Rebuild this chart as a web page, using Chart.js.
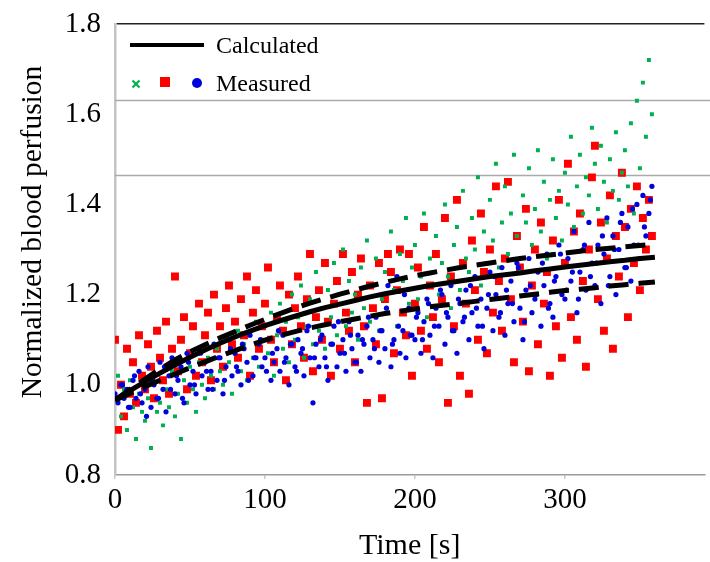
<!DOCTYPE html>
<html><head><meta charset="utf-8">
<script src="https://cdn.jsdelivr.net/npm/chart.js@4/dist/chart.umd.min.js"></script>
<style>html,body{margin:0;padding:0;background:#fff}</style>
</head><body>
<canvas id="c" width="710" height="562"></canvas>
<script>
// ---- data ----
const time = [
0,2,4,6,8,10,12,14,16,18,
20,22,24,26,28,30,32,34,36,38,
40,42,44,46,48,50,52,54,56,58,
60,62,64,66,68,70,72,74,76,78,
80,82,84,86,88,90,92,94,96,98,
100,102,104,106,108,110,112,114,116,118,
120,122,124,126,128,130,132,134,136,138,
140,142,144,146,148,150,152,154,156,158,
160,162,164,166,168,170,172,174,176,178,
180,182,184,186,188,190,192,194,196,198,
200,202,204,206,208,210,212,214,216,218,
220,222,224,226,228,230,232,234,236,238,
240,242,244,246,248,250,252,254,256,258,
260,262,264,266,268,270,272,274,276,278,
280,282,284,286,288,290,292,294,296,298,
300,302,304,306,308,310,312,314,316,318,
320,322,324,326,328,330,332,334,336,338,
340,342,344,346,348,350,352,354,356,358];

const measuredBlue = [
0.98,0.96,1.00,0.97,0.99,0.95,1.01,0.97,1.03,0.96,
0.99,1.04,0.95,1.00,0.97,1.05,0.99,0.94,1.02,1.06,
0.98,1.01,1.04,0.96,1.07,1.00,1.03,0.98,1.08,1.02,
1.05,0.99,1.03,1.09,1.01,1.06,0.98,1.04,1.10,1.02,
1.07,1.03,1.00,1.08,1.05,1.11,1.02,1.06,1.09,1.04,
1.06,1.10,1.01,1.05,1.08,1.03,1.11,1.06,1.00,1.09,
1.04,1.10,1.07,1.02,1.12,1.06,0.96,1.09,1.04,1.11,
1.06,1.01,1.09,1.13,1.04,1.07,1.10,1.03,1.14,1.08,
1.05,1.11,1.03,1.09,1.13,1.06,1.10,1.15,1.05,1.12,
1.08,1.22,1.04,1.10,1.24,1.07,1.12,1.06,1.17,1.11,
1.10,1.16,1.07,1.14,1.19,1.11,1.06,1.17,1.13,1.20,
1.09,1.15,1.22,1.12,1.07,1.18,1.14,1.21,1.10,1.16,
1.24,1.13,1.19,1.08,1.17,1.25,1.12,1.20,1.15,1.26,
1.11,1.18,1.23,1.14,1.27,1.17,1.10,1.21,1.28,1.16,
1.19,1.25,1.13,1.22,1.29,1.18,1.15,1.24,1.31,1.20,
1.19,1.28,1.23,1.34,1.16,1.25,1.30,1.21,1.36,1.27,
1.22,1.31,1.18,1.29,1.37,1.24,1.33,1.20,1.30,1.38,
1.26,1.35,1.23,1.31,1.40,1.28,1.42,1.33,1.38,1.44];

const timeBlue2 = [
1,5,9,13,17,21,25,29,33,37,
41,45,49,53,57,61,65,69,73,77,
81,85,89,93,97,101,105,109,113,117,
121,125,129,133,137,141,145,149,153,157,
161,165,169,173,177,181,185,189,193,197,
201,205,209,213,217,221,225,229,233,237,
241,245,249,253,257,261,265,269,273,277,
281,285,289,293,297,301,305,309,313,317,
321,325,329,333,337,341,345,349,353,357];
const measuredBlue2 = [
0.97,1.00,0.95,1.02,0.98,0.93,1.01,0.97,1.04,0.99,
1.02,0.97,1.05,1.00,1.07,1.03,0.99,1.06,1.01,1.08,
1.04,1.09,1.01,1.06,1.10,1.03,1.07,1.12,1.05,1.09,
1.03,1.08,1.13,1.06,1.10,1.04,1.09,1.14,1.07,1.11,
1.05,1.10,1.15,1.08,1.12,1.17,1.09,1.13,1.20,1.11,
1.15,1.10,1.18,1.13,1.21,1.16,1.12,1.19,1.15,1.22,
1.17,1.13,1.20,1.24,1.16,1.21,1.18,1.26,1.14,1.22,
1.20,1.27,1.17,1.23,1.29,1.21,1.25,1.19,1.31,1.24,
1.27,1.33,1.22,1.30,1.36,1.26,1.39,1.31,1.35,1.41];

const measuredRed = [
1.10,0.90,1.00,0.93,1.08,0.98,1.05,0.96,1.11,1.02,
0.99,1.09,1.04,0.97,1.12,1.06,1.01,1.14,0.98,1.08,
1.24,1.03,1.10,1.15,0.99,1.07,1.13,1.02,1.18,1.05,
1.11,1.16,1.01,1.20,1.08,1.13,1.04,1.17,1.22,1.09,
1.14,1.06,1.19,1.11,1.24,1.02,1.16,1.21,1.08,1.13,
1.18,1.26,1.10,1.05,1.15,1.22,1.12,1.01,1.20,1.09,
1.17,1.24,1.13,1.06,1.19,1.29,1.03,1.15,1.21,1.10,
1.27,1.14,1.02,1.18,1.23,1.08,1.29,1.16,1.12,1.25,
1.05,1.20,1.28,1.13,0.96,1.22,1.17,1.09,1.27,0.97,
1.19,1.29,1.25,1.07,1.21,1.30,1.16,1.11,1.29,1.02,
1.18,1.26,1.12,1.35,1.08,1.22,1.15,1.29,1.05,1.19,
1.37,0.96,1.24,1.13,1.41,1.02,1.27,1.18,0.98,1.32,
1.21,1.10,1.38,1.25,1.07,1.30,1.16,1.44,1.23,1.12,
1.28,1.45,1.19,1.05,1.33,1.26,1.14,1.39,1.03,1.22,
1.30,1.09,1.36,1.18,1.25,1.02,1.32,1.13,1.41,1.06,
1.27,1.49,1.15,1.34,1.10,1.38,1.23,1.04,1.30,1.46,
1.53,1.19,1.36,1.12,1.28,1.42,1.08,1.33,1.24,1.47,
1.35,1.15,1.39,1.27,1.44,1.21,1.37,1.30,1.41,1.33];

const measuredGreen = [
0.97,1.02,0.93,0.99,0.90,1.01,0.95,0.88,0.98,0.94,
0.92,0.97,0.86,1.00,0.94,0.96,0.91,0.99,0.95,1.03,
0.93,0.98,0.88,1.01,0.96,1.04,0.99,0.94,1.05,1.00,
0.97,1.06,1.02,0.99,1.08,1.03,1.00,1.10,1.05,0.98,
1.07,1.12,1.03,1.09,1.01,1.11,1.06,1.14,1.04,1.10,
1.13,1.07,1.16,1.02,1.11,1.18,1.08,1.14,1.05,1.20,
1.10,1.15,1.22,1.06,1.13,1.19,1.09,1.25,1.12,1.17,
1.08,1.21,1.15,1.27,1.11,1.18,1.30,1.13,1.23,1.16,
1.20,1.10,1.26,1.17,1.32,1.14,1.22,1.28,1.12,1.19,
1.25,1.16,1.34,1.21,1.13,1.29,1.23,1.37,1.18,1.26,
1.31,1.19,1.24,1.38,1.15,1.28,1.22,1.33,1.20,1.27,
1.40,1.24,1.17,1.31,1.35,1.21,1.43,1.28,1.25,1.37,
1.30,1.46,1.22,1.34,1.27,1.41,1.32,1.49,1.26,1.36,
1.44,1.29,1.38,1.51,1.33,1.25,1.42,1.36,1.48,1.31,
1.39,1.52,1.34,1.45,1.28,1.41,1.50,1.37,1.43,1.32,
1.47,1.40,1.55,1.35,1.44,1.51,1.38,1.46,1.42,1.57,
1.49,1.39,1.53,1.45,1.36,1.50,1.43,1.56,1.41,1.47,
1.52,1.44,1.58,1.38,1.63,1.48,1.67,1.55,1.72,1.60];

const calcTime = [0,10,20,30,40,50,60,70,80,90,100,110,120,130,140,150,160,170,180,190,
200,210,220,230,240,250,260,270,280,290,300,310,320,330,340,350,360];
const calculated = [0.966,0.987,1.007,1.026,1.044,1.061,1.077,1.092,1.106,1.119,
1.131,1.142,1.152,1.162,1.171,1.179,1.187,1.195,1.202,1.208,
1.214,1.220,1.225,1.230,1.235,1.240,1.244,1.248,1.253,1.257,
1.261,1.265,1.269,1.273,1.276,1.280,1.283];
const calculatedUpper = [0.966,0.990,1.013,1.035,1.055,1.073,1.089,1.104,1.118,1.132,
1.145,1.158,1.170,1.181,1.191,1.201,1.210,1.219,1.227,1.235,
1.242,1.248,1.254,1.260,1.265,1.270,1.275,1.280,1.284,1.288,
1.292,1.296,1.300,1.303,1.306,1.309,1.312];
const calculatedLower = [0.966,0.981,0.996,1.010,1.024,1.038,1.051,1.064,1.076,1.088,
1.099,1.109,1.118,1.126,1.133,1.140,1.146,1.152,1.158,1.163,
1.168,1.173,1.177,1.181,1.185,1.189,1.193,1.197,1.201,1.205,
1.209,1.212,1.215,1.219,1.222,1.225,1.228];

const yTicks = [0.8,1.0,1.2,1.4,1.6,1.8];
const xTicks = [0,100,200,300];
const refLines = [1.465,1.632];

// ---- build ----
const pts = (xs, ys) => xs.map((x,i)=>({x:x, y:ys[i]}));
const SERIF = '"Liberation Serif","Times New Roman",serif';

const refLinePlugin = {
  id:'refLines',
  beforeDatasetsDraw(chart){
    const {ctx, chartArea:a, scales:{y}} = chart;
    ctx.save();
    ctx.strokeStyle = '#ababab'; ctx.lineWidth = 1.5;
    refLines.forEach(v=>{
      const py = Math.round(y.getPixelForValue(v))+0.5;
      ctx.beginPath(); ctx.moveTo(a.left, py); ctx.lineTo(chart.width, py); ctx.stroke();
    });
    ctx.restore();
  }
};

const yTitlePlugin = {
  id:'yTitle',
  afterDraw(chart){
    const {ctx} = chart;
    ctx.save();
    ctx.translate(33, 232);
    ctx.rotate(-Math.PI/2);
    ctx.fillStyle = '#000'; ctx.font = '29.5px ' + SERIF;
    ctx.textAlign = 'center'; ctx.textBaseline = 'middle';
    ctx.fillText('Normalized blood perfusion', 0, 0);
    ctx.restore();
  }
};

const legendPlugin = {
  id:'customLegend',
  afterDraw(chart){
    const {ctx, chartArea:a} = chart;
    const x0 = a.left, y0 = a.top;
    ctx.save();
    ctx.strokeStyle = '#000'; ctx.lineWidth = 4;
    ctx.beginPath(); ctx.moveTo(x0+15, y0+21); ctx.lineTo(x0+89, y0+21); ctx.stroke();
    ctx.fillStyle = '#000'; ctx.font = '24px ' + SERIF;
    ctx.textAlign = 'left'; ctx.textBaseline = 'middle';
    ctx.fillText('Calculated', x0+101, y0+23);
    ctx.fillText('Measured', x0+101, y0+61);
    ctx.strokeStyle = '#00b050'; ctx.lineWidth = 2.2;
    const gx = x0+21, gy = y0+60;
    ctx.beginPath(); ctx.moveTo(gx-3.5, gy-3.5); ctx.lineTo(gx+3.5, gy+3.5);
    ctx.moveTo(gx+3.5, gy-3.5); ctx.lineTo(gx-3.5, gy+3.5); ctx.stroke();
    ctx.fillStyle = '#ff0000'; ctx.fillRect(x0+45, y0+53, 10, 10);
    ctx.fillStyle = '#0000dd'; ctx.beginPath(); ctx.arc(x0+82, y0+59, 5, 0, Math.PI*2); ctx.fill();
    ctx.restore();
  }
};

const lineDs = (label, ys, dash) => ({label, type:'line', data:pts(calcTime, ys), borderColor:'#000', borderWidth:5,
  borderDash:dash, borderCapStyle:'butt', pointRadius:0, showLine:true, fill:false, tension:0});

new Chart(document.getElementById('c'), {
  type:'scatter',
  data:{ datasets:[
    lineDs('Calculated', calculated, []),
    lineDs('Calculated upper', calculatedUpper, [20,10]),
    lineDs('Calculated lower', calculatedLower, [20,10]),
    {label:'Measured (blue)', data:pts(time, measuredBlue), pointStyle:'circle', pointRadius:2.6, backgroundColor:'#0000dd', borderWidth:0},
    {label:'Measured (blue, b)', data:pts(timeBlue2, measuredBlue2), pointStyle:'circle', pointRadius:2.6, backgroundColor:'#0000dd', borderWidth:0},
    {label:'Measured (green)', data:pts(time, measuredGreen), pointStyle:'rect', pointRadius:2.8, backgroundColor:'#00b050', borderWidth:0},
    {label:'Measured (red)', data:pts(time, measuredRed), pointStyle:'rect', pointRadius:5.6, backgroundColor:'#ff0000', borderWidth:0}
  ]},
  options:{
    responsive:false, animation:false, events:[],
    layout:{padding:{left:0,right:2,top:24,bottom:0}},
    plugins:{legend:{display:false}, tooltip:{enabled:false}},
    scales:{
      x:{type:'linear', min:0, max:393,
        afterBuildTicks:s=>{ s.ticks=xTicks.map(v=>({value:v})); },
        ticks:{color:'#000', font:{family:SERIF, size:29}, padding:4, maxRotation:0},
        grid:{drawOnChartArea:false, drawTicks:true, tickLength:4, color:'#c8c8c8', lineWidth:1.5},
        border:{color:'#9a9a9a', width:1.5},
        title:{display:true, text:'Time [s]', color:'#000', font:{family:SERIF, size:30}, padding:{top:0,bottom:-2}},
        afterFit:s=>{ s.height = 87; s.paddingLeft = 0; s.paddingRight = 0; }
      },
      y:{type:'linear', min:0.8, max:1.8,
        afterBuildTicks:s=>{ s.ticks=yTicks.map(v=>({value:v})); },
        ticks:{color:'#000', font:{family:SERIF, size:29}, padding:14, callback:v=>v.toFixed(1)},
        grid:{drawTicks:false, lineWidth:1.5, color:c=>(c.tick && Math.abs(c.tick.value-1.8)<1e-6)?'#222':'rgba(0,0,0,0)'},
        border:{color:'#c4c4c4', width:2.5},
        title:{display:false, text:'Normalized blood perfusion'},
        afterFit:s=>{ s.width = 115; s.paddingTop = 0; s.paddingBottom = 0; }
      }
    }
  },
  plugins:[refLinePlugin, legendPlugin, yTitlePlugin]
});
</script>
</body></html>
